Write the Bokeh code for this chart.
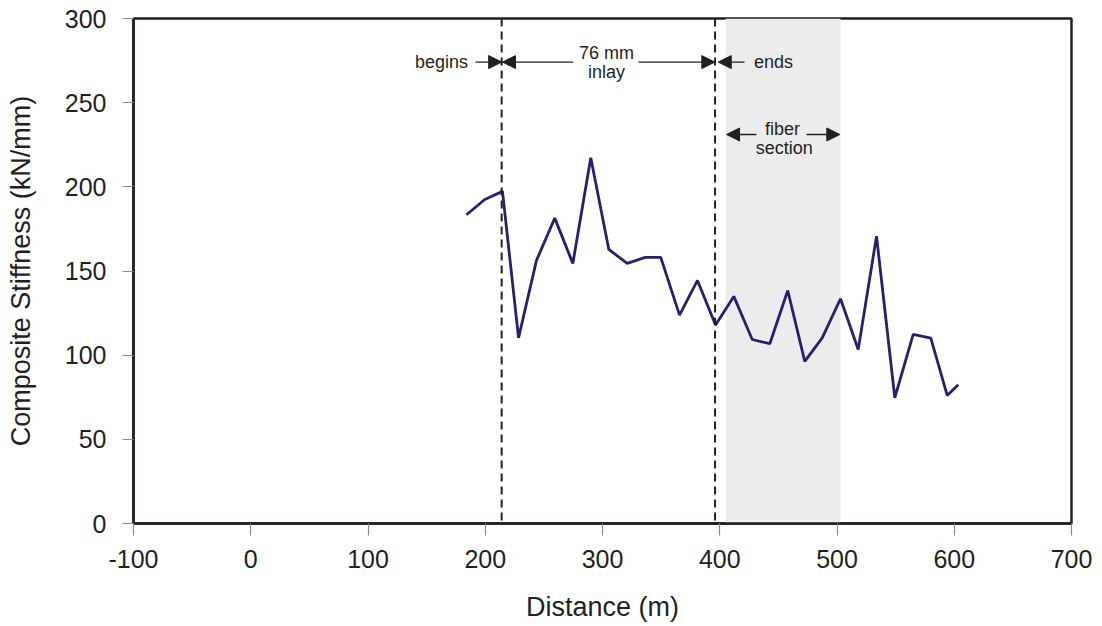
from bokeh.plotting import figure
from bokeh.models import (FixedTicker, Span, BoxAnnotation, Arrow, NormalHead, Label)
from bokeh.embed import file_html
from bokeh.resources import INLINE

# ---- data ----
distance = [184.0, 199.6, 214.7, 228.4, 243.7, 259.3, 274.7, 290.0, 305.4, 321.1,
            336.4, 349.7, 365.7, 381.0, 396.4, 412.0, 427.7, 442.7, 458.0, 472.5,
            487.4, 503.0, 518.1, 533.7, 549.3, 565.0, 580.0, 594.0, 603.4]
stiffness = [183.4, 192.5, 197.3, 110.3, 156.3, 181.4, 154.5, 217.3, 162.8, 154.5,
             158.1, 158.1, 123.8, 144.4, 117.9, 134.9, 109.3, 106.8, 138.4, 96.3,
             110.3, 133.5, 103.4, 170.7, 74.7, 112.3, 110.1, 76.1, 82.4]
x_ticks = [-100, 0, 100, 200, 300, 400, 500, 600, 700]
y_ticks = [0, 50, 100, 150, 200, 250, 300]
inlay_begin = 214
inlay_end = 396
fiber_section = [405, 503]

FONT = "Liberation Sans"
LINE_COLOR = "#2a1e6e"
INK = "#231f20"

p = figure(width=1096, height=624, x_range=(-100, 700), y_range=(0, 300),
           output_backend="svg", toolbar_location=None,
           min_border_left=133, min_border_right=25, min_border_top=18, min_border_bottom=101,
           x_axis_label="Distance (m)", y_axis_label="Composite Stiffness (kN/mm)")
p.grid.visible = False
p.outline_line_color = INK
p.outline_line_width = 2.5
p.background_fill_color = "white"
p.border_fill_color = "white"

for ax in (p.xaxis[0], p.yaxis[0]):
    ax.axis_line_color = INK
    ax.axis_line_width = 2.5
    ax.major_tick_line_color = "#8a8a8a"
    ax.major_tick_line_width = 1.2
    ax.minor_tick_line_color = None
    ax.major_tick_in = 0
    ax.major_label_text_font = FONT
    ax.major_label_text_font_size = "25px"
    ax.major_label_text_color = INK
    ax.axis_label_text_font = FONT
    ax.axis_label_text_font_size = "27px"
    ax.axis_label_text_font_style = "normal"
    ax.axis_label_text_color = INK

p.xaxis[0].ticker = FixedTicker(ticks=x_ticks)
p.xaxis[0].major_label_overrides = {t: str(t) for t in x_ticks}
p.yaxis[0].ticker = FixedTicker(ticks=y_ticks)
p.xaxis[0].major_tick_out = 12
p.yaxis[0].major_tick_out = 11
p.xaxis[0].major_label_standoff = 14
p.yaxis[0].major_label_standoff = 16
p.xaxis[0].axis_label_standoff = 21
p.yaxis[0].axis_label_standoff = 26

# fiber section shading
p.add_layout(BoxAnnotation(left=fiber_section[0], right=fiber_section[1],
                           fill_color="#ececec", fill_alpha=1.0, line_color=None,
                           level="underlay"))

# inlay start / end dashed lines
for loc in (inlay_begin, inlay_end):
    p.add_layout(Span(location=loc, dimension="height", line_color=INK,
                      line_width=2, line_dash="8 5"))

p.line(distance, stiffness, line_color=LINE_COLOR, line_width=2.8)

def arrow(x0, x1, y):
    p.add_layout(Arrow(end=NormalHead(size=13, fill_color=INK, line_color=INK),
                       x_start=x0, y_start=y, x_end=x1, y_end=y,
                       line_color=INK, line_width=1.3))

def label(x, y, t):
    p.add_layout(Label(x=x, y=y, text=t, text_align="center", text_baseline="middle",
                       text_font=FONT, text_font_size="18px", text_color=INK))

ya = 274.1
arrow(191.7, inlay_begin, ya)
arrow(275.0, inlay_begin + 0.7, ya)
arrow(330.7, inlay_end - 0.2, ya)
arrow(421.1, inlay_end + 2.7, ya)
label(162.7, ya, "begins")
label(303.4, 279.6, "76 mm")
label(303.4, 268.5, "inlay")
label(445.8, ya, "ends")

yf = 231.1
arrow(431.3, fiber_section[0] + 0.8, yf)
arrow(474.0, fiber_section[1] - 0.6, yf)
label(453.5, 234.5, "fiber")
label(455.0, 223.3, "section")

open("out.html", "w").write(file_html(p, INLINE))
